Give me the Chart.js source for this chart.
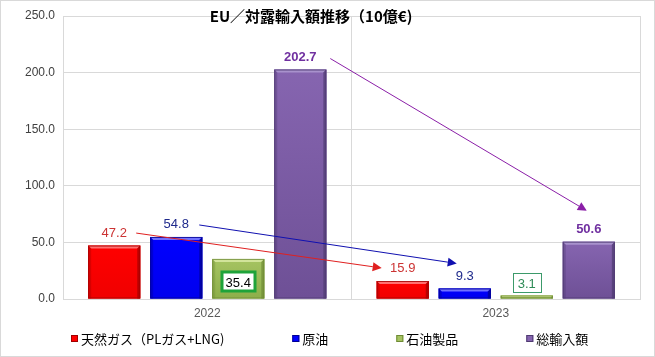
<!DOCTYPE html>
<html><head><meta charset="utf-8">
<script src="https://cdn.jsdelivr.net/npm/chart.js@4.4.0/dist/chart.umd.min.js"></script>
<style>html,body{margin:0;padding:0;background:#fff;}canvas{display:block;}</style>
</head><body>
<canvas id="c" width="655" height="357"></canvas>
<script>
// ---- data ----
const categories = ['2022', '2023'];
const seriesNames = ['天然ガス（PLガス+LNG)', '原油', '石油製品', '総輸入額'];
const gasValues = [47.2, 15.9];
const crudeValues = [54.8, 9.3];
const productValues = [35.4, 3.1];
const totalValues = [202.7, 50.6];
const chartTitle = 'EU／対露輸入額推移（10億€)';
const yMin = 0, yMax = 250, yStep = 50;

// ---- styles ----
const NUM_FONT = '"Liberation Sans", Arial, sans-serif';
const JP_FONT = '"Noto Sans CJK JP", "Liberation Sans", sans-serif';
const seriesStyle = [
  { fill: '#FF0000', fillBot: '#F00000', dark: '#A00000', light: '#FF7070', label: '#CC3333', bold: false, arrow: '#E02020',
    arrowFrom: [22, -12.5], arrowTo: [-21, -13] },
  { fill: '#0000FF', fillBot: '#0000EE', dark: '#000090', light: '#7070FF', label: '#1F2A8C', bold: false, arrow: '#1010B0',
    arrowFrom: [23, -12], arrowTo: [-8, -25] },
  { fill: '#A6C462', fillBot: '#8DAE4A', dark: '#6E8A35', light: '#D2E49A', label: '#000000', bold: false, arrow: null },
  { fill: '#8665B0', fillBot: '#6E5096', dark: '#4E3A70', light: '#A892CC', label: '#7030A0', bold: true, arrow: '#8B1FA8',
    arrowFrom: [30, -11], arrowTo: [-2, -31] }
];
const valueLists = [gasValues, crudeValues, productValues, totalValues];

function drawBevelBar(ctx, el, st) {
  const l = el.x - el.width / 2, r = el.x + el.width / 2;
  const top = Math.min(el.y, el.base), bot = Math.max(el.y, el.base);
  const h = bot - top;
  if (h <= 0) return;
  ctx.save();
  const g = ctx.createLinearGradient(0, top, 0, bot);
  g.addColorStop(0, st.fill);
  g.addColorStop(1, st.fillBot);
  ctx.fillStyle = g;
  ctx.fillRect(l, top, r - l, h);
  const b = Math.min(3, h / 2);
  // top bevel
  ctx.fillStyle = st.light;
  ctx.beginPath();
  ctx.moveTo(l, top); ctx.lineTo(r, top); ctx.lineTo(r - b, top + b); ctx.lineTo(l + b, top + b); ctx.closePath();
  ctx.fill();
  // left bevel
  ctx.globalAlpha = 0.35;
  ctx.fillStyle = st.dark;
  ctx.beginPath();
  ctx.moveTo(l, top); ctx.lineTo(l + b, top + b); ctx.lineTo(l + b, bot); ctx.lineTo(l, bot); ctx.closePath();
  ctx.fill();
  // right bevel
  ctx.globalAlpha = 0.7;
  ctx.beginPath();
  ctx.moveTo(r, top); ctx.lineTo(r - b, top + b); ctx.lineTo(r - b, bot); ctx.lineTo(r, bot); ctx.closePath();
  ctx.fill();
  ctx.globalAlpha = 0.8;
  ctx.strokeStyle = st.dark;
  ctx.lineWidth = 1;
  ctx.strokeRect(l + 0.5, top + 0.5, r - l - 1, h - 1);
  ctx.restore();
}

function drawArrow(ctx, x1, y1, x2, y2, color) {
  ctx.save();
  ctx.strokeStyle = color; ctx.fillStyle = color; ctx.lineWidth = 1;
  const a = Math.atan2(y2 - y1, x2 - x1);
  const len = 9, wid = 4.5;
  const bx = x2 - len * Math.cos(a), by = y2 - len * Math.sin(a);
  ctx.beginPath(); ctx.moveTo(x1, y1); ctx.lineTo(bx, by); ctx.stroke();
  ctx.beginPath();
  ctx.moveTo(x2, y2);
  ctx.lineTo(bx + wid * Math.sin(a), by - wid * Math.cos(a));
  ctx.lineTo(bx - wid * Math.sin(a), by + wid * Math.cos(a));
  ctx.closePath(); ctx.fill();
  ctx.restore();
}

const decorPlugin = {
  id: 'decor',
  beforeDraw(chart) {
    const ctx = chart.ctx;
    ctx.save(); ctx.fillStyle = '#fff'; ctx.fillRect(0, 0, chart.width, chart.height); ctx.restore();
  },
  afterDatasetDraw(chart, args) {
    const st = seriesStyle[args.index];
    args.meta.data.forEach(el => drawBevelBar(chart.ctx, el, st));
  },
  afterDatasetsDraw(chart) {
    const ctx = chart.ctx;
    chart.data.datasets.forEach((ds, i) => {
      const st = seriesStyle[i];
      if (!st.arrow) return;
      const m = chart.getDatasetMeta(i).data;
      const a = m[0], b = m[1];
      drawArrow(ctx, a.x + st.arrowFrom[0], a.y + st.arrowFrom[1], b.x + st.arrowTo[0], b.y + st.arrowTo[1], st.arrow);
    });
    chart.data.datasets.forEach((ds, i) => {
      const st = seriesStyle[i];
      const m = chart.getDatasetMeta(i).data;
      m.forEach((el, j) => {
        const txt = ds.data[j].toFixed(1);
        ctx.save();
        ctx.textAlign = 'center'; ctx.textBaseline = 'middle';
        ctx.font = (st.bold ? 'bold ' : '') + '13px ' + NUM_FONT;
        if (i === 2) {
          const inside = j === 0;
          const cx = el.x, cy = inside ? el.y + 23 : el.y - 12.5;
          const w = ctx.measureText(txt).width;
          const bw = w + (inside ? 8 : 10), bh = 19;
          ctx.fillStyle = '#fff';
          ctx.fillRect(cx - bw / 2, cy - bh / 2, bw, bh);
          ctx.strokeStyle = inside ? '#1FA33A' : '#3C9A6A';
          ctx.lineWidth = inside ? 3 : 1;
          ctx.strokeRect(Math.round(cx - bw / 2) + (inside ? 0 : 0.5), Math.round(cy - bh / 2) + (inside ? 0 : 0.5), Math.round(bw), bh);
          ctx.fillStyle = inside ? '#000' : '#2E8B57';
          ctx.fillText(txt, cx, cy + 1);
        } else {
          ctx.fillStyle = st.label;
          ctx.fillText(txt, el.x, el.y - 12.5);
        }
        ctx.restore();
      });
    });
  },
  afterDraw(chart) {
    const ctx = chart.ctx;
    ctx.save();
    ctx.fillStyle = '#000';
    ctx.font = 'bold 15px ' + JP_FONT;
    ctx.textAlign = 'center'; ctx.textBaseline = 'middle';
    ctx.fillText(chartTitle, 311, 16);
    ctx.font = '13px ' + JP_FONT;
    ctx.textAlign = 'left';
    const box = 7, gapBT = 3, gapItem = 68;
    const widths = seriesNames.map(n => box + gapBT + ctx.measureText(n).width);
    const total = widths.reduce((s, w) => s + w, 0) + gapItem * (widths.length - 1);
    let x = Math.round(329.5 - total / 2);
    const ly = 338;
    seriesNames.forEach((n, i) => {
      const st = seriesStyle[i];
      ctx.fillStyle = st.fill;
      ctx.fillRect(x, ly - 3, box, box);
      ctx.strokeStyle = st.dark; ctx.lineWidth = 1;
      ctx.strokeRect(x + 0.5, ly - 2.5, box - 1, box - 1);
      ctx.fillStyle = '#000';
      ctx.fillText(n, x + box + gapBT, ly + 1);
      x += widths[i] + gapItem;
    });
    ctx.strokeStyle = '#D9D9D9'; ctx.lineWidth = 1;
    ctx.strokeRect(0.5, 0.5, chart.width - 1, chart.height - 1);
    ctx.restore();
  }
};

new Chart(document.getElementById('c'), {
  type: 'bar',
  data: {
    labels: categories,
    datasets: valueLists.map((vals, i) => ({
      label: seriesNames[i],
      data: vals,
      backgroundColor: seriesStyle[i].fill,
      borderWidth: 0,
      categoryPercentage: 0.86,
      barPercentage: 0.84
    }))
  },
  options: {
    responsive: false,
    animation: false,
    devicePixelRatio: 1,
    layout: { padding: { left: 0, right: 15, top: 16, bottom: 36 } },
    plugins: { legend: { display: false }, title: { display: false }, tooltip: { enabled: false } },
    scales: {
      x: {
        grid: { display: true, offset: true, color: '#D9D9D9', drawTicks: false },
        border: { display: true, color: '#D9D9D9' },
        ticks: { color: '#595959', font: { family: NUM_FONT, size: 12 }, padding: 7 },
        afterFit(s) { s.height = 22; }
      },
      y: {
        min: yMin, max: yMax,
        grid: { color: '#D9D9D9', drawTicks: false },
        border: { display: true, color: '#D9D9D9' },
        ticks: { stepSize: yStep, color: '#404040', font: { family: NUM_FONT, size: 12 }, padding: 8,
          callback: v => Number(v).toFixed(1) },
        afterFit(s) { s.width = 63; }
      }
    }
  },
  plugins: [decorPlugin]
});
</script>
</body></html>
